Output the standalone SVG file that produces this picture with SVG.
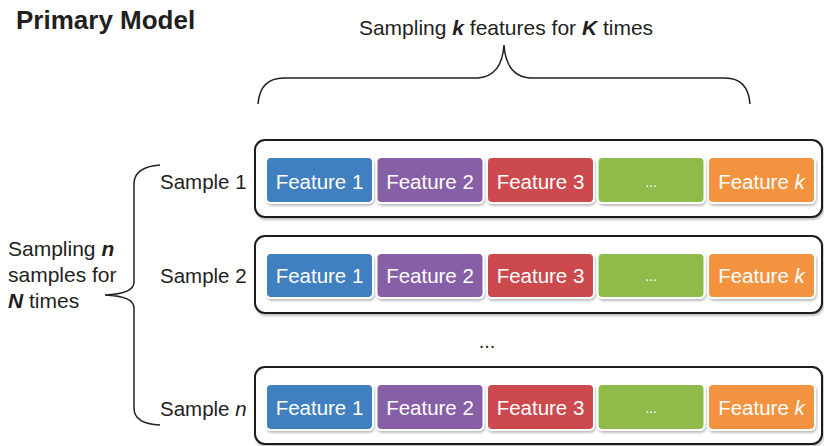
<svg xmlns="http://www.w3.org/2000/svg" width="824" height="446" viewBox="0 0 824 446">
  <defs>
    <filter id="soft" x="-5%" y="-10%" width="110%" height="130%">
      <feDropShadow dx="1" dy="2" stdDeviation="1.2" flood-color="#000" flood-opacity="0.25"/>
    </filter>
    <style>
      text { font-family: "Liberation Sans", Arial, sans-serif; }
      .title { font-size: 26px; font-weight: bold; fill: #231f20; }
      .lbl { font-size: 21px; fill: #231f20; }
      .smp { font-size: 20.5px; fill: #231f20; }
      .ft { font-size: 20.5px; fill: #ffffff; text-anchor: middle; }
      .dots { font-size: 14px; fill: #ffffff; text-anchor: middle; }
      .row { fill: #ffffff; stroke: #1a1a1a; stroke-width: 2; filter: url(#soft); }
      .feat { stroke: #ffffff; stroke-width: 2; filter: url(#soft); }
      .f1 { fill: #3f7fc0; }
      .f2 { fill: #875fa7; }
      .f3 { fill: #cc4a4e; }
      .f4 { fill: #8fbb4b; }
      .f5 { fill: #f39341; }
      .brace { fill: none; stroke: #231f20; stroke-width: 1.5; }
    </style>
  </defs>

  <text class="title" x="16" y="29">Primary Model</text>

  <!-- braces -->
  <g id="connectors">
    <path class="brace" d="M258,104 Q260,78 284,78 L478,78 Q502,76 504,45 Q506,76 530,78 L725,78 Q748,78 750,104"/>
    <path class="brace" d="M160,165 Q134,167 134,184 L134,282 Q134,294 105,295 Q134,296 134,308 L134,408 Q134,424 160,425"/>
  </g>

  <g id="label-features">
    <text class="lbl" x="506" y="35" text-anchor="middle">Sampling <tspan font-weight="bold" font-style="italic">k</tspan> features for <tspan font-weight="bold" font-style="italic">K</tspan> times</text>
  </g>

  <g id="label-samples">
    <text class="lbl" x="8" y="256">Sampling <tspan font-weight="bold" font-style="italic">n</tspan></text>
    <text class="lbl" x="8" y="282">samples for</text>
    <text class="lbl" x="8" y="308"><tspan font-weight="bold" font-style="italic">N</tspan> times</text>
  </g>

  <!-- sample 1 -->
  <g id="sample-1">
    <text class="smp" x="160" y="189">Sample 1</text>
    <rect class="row" x="255" y="140" width="567" height="77" rx="10"/>
    <rect class="feat f1" x="266" y="157" width="107" height="46" rx="5"/>
    <rect class="feat f2" x="376.5" y="157" width="107" height="46" rx="5"/>
    <rect class="feat f3" x="487" y="157" width="107" height="46" rx="5"/>
    <rect class="feat f4" x="597.5" y="157" width="107" height="46" rx="5"/>
    <rect class="feat f5" x="708" y="157" width="107" height="46" rx="5"/>
    <text class="ft" x="319.5" y="189">Feature 1</text>
    <text class="ft" x="430" y="189">Feature 2</text>
    <text class="ft" x="540.5" y="189">Feature 3</text>
    <text class="dots" x="651" y="187">...</text>
    <text class="ft" x="761.5" y="189">Feature <tspan font-style="italic">k</tspan></text>
  </g>

  <!-- sample 2 -->
  <g id="sample-2">
    <text class="smp" x="160" y="283">Sample 2</text>
    <rect class="row" x="255" y="236" width="567" height="77" rx="10"/>
    <rect class="feat f1" x="266" y="253" width="107" height="45" rx="5"/>
    <rect class="feat f2" x="376.5" y="253" width="107" height="45" rx="5"/>
    <rect class="feat f3" x="487" y="253" width="107" height="45" rx="5"/>
    <rect class="feat f4" x="597.5" y="253" width="107" height="45" rx="5"/>
    <rect class="feat f5" x="708" y="253" width="107" height="45" rx="5"/>
    <text class="ft" x="319.5" y="283">Feature 1</text>
    <text class="ft" x="430" y="283">Feature 2</text>
    <text class="ft" x="540.5" y="283">Feature 3</text>
    <text class="dots" x="651" y="281">...</text>
    <text class="ft" x="761.5" y="283">Feature <tspan font-style="italic">k</tspan></text>
  </g>

  <text id="more-samples" x="487" y="348" text-anchor="middle" style="font-size:20px;fill:#231f20">...</text>

  <!-- sample n -->
  <g id="sample-n">
    <text class="smp" x="160" y="416">Sample <tspan font-style="italic">n</tspan></text>
    <rect class="row" x="255" y="367" width="567" height="77" rx="10"/>
    <rect class="feat f1" x="266" y="384" width="107" height="46" rx="5"/>
    <rect class="feat f2" x="376.5" y="384" width="107" height="46" rx="5"/>
    <rect class="feat f3" x="487" y="384" width="107" height="46" rx="5"/>
    <rect class="feat f4" x="597.5" y="384" width="107" height="46" rx="5"/>
    <rect class="feat f5" x="708" y="384" width="107" height="46" rx="5"/>
    <text class="ft" x="319.5" y="415">Feature 1</text>
    <text class="ft" x="430" y="415">Feature 2</text>
    <text class="ft" x="540.5" y="415">Feature 3</text>
    <text class="dots" x="651" y="413">...</text>
    <text class="ft" x="761.5" y="415">Feature <tspan font-style="italic">k</tspan></text>
  </g>
</svg>
